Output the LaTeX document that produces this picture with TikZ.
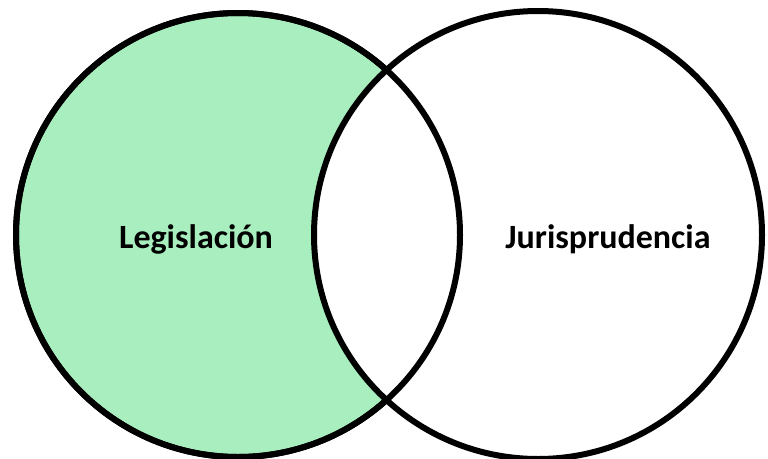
\documentclass[tikz,border=0pt]{standalone}
\usepackage{fontspec}
\setmainfont{Carlito}
\usetikzlibrary{positioning}

\definecolor{legisgreen}{RGB}{168,238,190}

\begin{document}
\begin{tikzpicture}[
    x=1pt, y=-1pt,
    ring/.style={circle, draw, line width=6pt, minimum size=444pt, inner sep=0pt},
    tag/.style={font=\bfseries\fontsize{34}{40}\selectfont, anchor=base}
]

\useasboundingbox (0,0) rectangle (768,458);

% Circles
\node[ring, fill=legisgreen] (legis) at (238,235) {};
\node[ring, fill=white, minimum size=448pt] (juris) at (538,235) {};
\node[ring] (legisrim) at (legis) {};

% Labels
\node[tag] (legislabel) at (196,248) {Legislación};
\node[tag] (jurislabel) at (608,248) {Jurisprudencia};

\end{tikzpicture}
\end{document}
